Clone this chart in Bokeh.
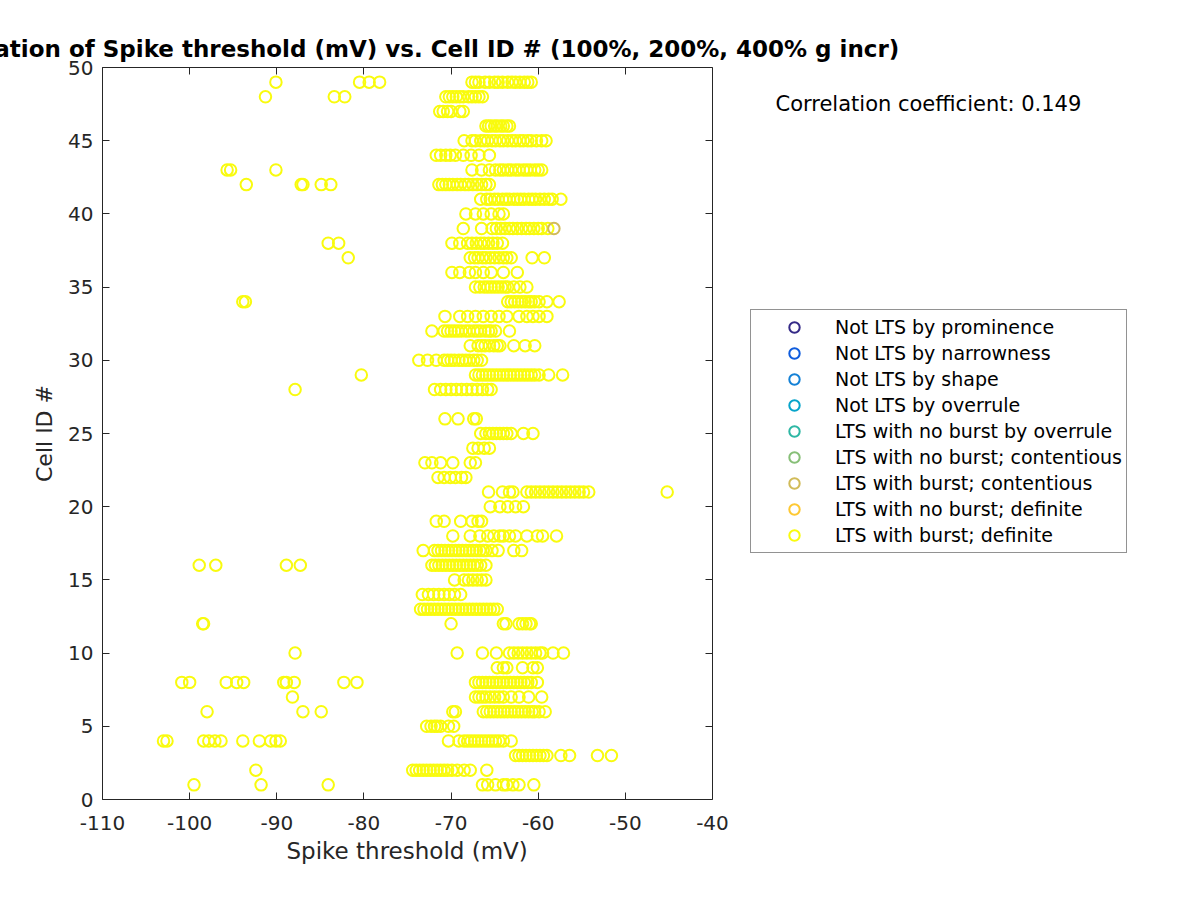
from bokeh.plotting import figure
from bokeh.models import (Legend, LegendItem, Label, LinearAxis, FixedTicker,
                          ColumnDataSource, Range1d, Title)
from bokeh.embed import file_html
from bokeh.resources import INLINE

# ---------------- data (spike threshold in mV, per cell ID) ----------------
cell_49 = [-90.1, -80.5, -79.4, -78.2, -67.6, -67.2, -66.8, -66.1, -65.6, -65.0, -64.6, -64.1,
           -63.5, -63.0, -62.6, -62.1, -61.6, -61.2, -60.8]
cell_48 = [-91.3, -83.4, -82.2, -70.6, -70.2, -69.8, -69.4, -69.0, -68.6, -68.0, -67.6, -67.2,
           -66.8, -66.4]
cell_47 = [-71.3, -70.9, -70.4, -70.0, -69.0, -68.6]
cell_46 = [-66.0, -65.7, -65.4, -65.0, -64.7, -64.3, -64.0, -63.6, -63.3]
cell_45 = [-68.5, -67.6, -67.2, -66.6, -66.2, -65.8, -65.3, -64.9, -64.4, -64.0, -63.5, -63.0,
           -62.6, -62.1, -61.7, -61.2, -60.8, -60.2, -59.6, -59.1]
cell_44 = [-71.7, -71.2, -70.6, -70.1, -69.5, -68.6, -67.7, -66.8, -65.6]
cell_43 = [-95.7, -95.3, -90.1, -67.6, -66.5, -65.6, -64.9, -64.4, -64.0, -63.5, -63.1, -62.6,
           -62.2, -61.7, -61.3, -60.9, -60.4, -60.0, -59.6]
cell_42 = [-93.5, -87.2, -87.0, -84.9, -83.8, -71.4, -71.0, -70.6, -70.2, -69.8, -69.3, -68.9,
           -68.4, -68.0, -67.5, -67.0, -66.5, -66.0, -65.6]
cell_41 = [-66.6, -65.9, -65.5, -65.0, -64.6, -64.1, -63.7, -63.3, -62.8, -62.4, -62.0, -61.6,
           -61.1, -60.7, -60.3, -59.8, -59.3, -58.8, -58.4, -57.4]
cell_40 = [-68.3, -67.2, -66.3, -65.4, -64.5, -64.0]
cell_39 = [-68.6, -66.5, -65.3, -64.8, -64.3, -63.8, -63.3, -62.9, -62.4, -61.9, -61.4, -61.0,
           -60.5, -60.0, -59.6, -58.9]
cell_38 = [-84.1, -82.9, -69.9, -69.0, -68.1, -67.6, -67.1, -66.6, -66.2, -65.7, -65.2, -64.7,
           -64.1]
cell_37 = [-81.8, -67.8, -67.3, -66.9, -66.4, -66.0, -65.5, -65.0, -64.5, -64.0, -63.6, -63.1,
           -60.7, -59.3]
cell_36 = [-69.9, -69.0, -67.9, -67.2, -66.3, -65.4, -64.0, -62.4]
cell_35 = [-67.2, -66.7, -66.2, -65.8, -65.4, -65.0, -64.6, -64.2, -63.8, -63.5, -62.8, -62.1,
           -61.3]
cell_34 = [-93.9, -93.6, -63.5, -63.1, -62.7, -62.3, -61.9, -61.5, -61.1, -60.8, -60.4, -59.9,
           -59.0, -57.6]
cell_33 = [-70.7, -69.0, -68.1, -67.2, -66.3, -65.4, -64.5, -63.6, -62.2, -61.3, -60.6, -59.9,
           -59.0]
cell_32 = [-72.2, -70.8, -70.4, -70.0, -69.6, -69.2, -68.8, -68.3, -67.9, -67.4, -67.0, -66.6,
           -66.1, -65.7, -65.4, -64.9, -63.3]
cell_31 = [-67.8, -66.9, -66.5, -66.1, -65.6, -65.1, -64.7, -64.4, -62.8, -61.5, -60.4]
cell_30 = [-73.7, -72.7, -71.7, -70.8, -70.4, -70.0, -69.6, -69.1, -68.7, -68.3, -67.9, -67.4,
           -67.0, -66.5]
cell_29 = [-80.3, -67.2, -66.8, -66.4, -66.0, -65.6, -65.2, -64.8, -64.4, -64.0, -63.6, -63.2,
           -62.8, -62.4, -62.0, -61.6, -61.2, -60.8, -60.4, -59.9, -58.8, -57.2]
cell_28 = [-87.9, -71.9, -71.2, -70.6, -70.0, -69.4, -68.8, -68.2, -67.6, -67.0, -66.4, -65.8,
           -65.4]
cell_26 = [-70.7, -69.2, -67.4, -67.1]
cell_25 = [-66.6, -66.0, -65.6, -65.2, -64.8, -64.4, -64.0, -63.6, -63.1, -61.7, -60.6]
cell_24 = [-67.5, -66.9, -66.2, -65.6]
cell_23 = [-73.0, -72.2, -71.2, -69.8, -67.8, -67.2]
cell_22 = [-71.5, -70.8, -70.1, -69.5, -68.8, -68.3]
cell_21 = [-65.7, -64.1, -63.3, -62.9, -61.3, -60.8, -60.3, -59.8, -59.3, -58.8, -58.3, -57.8,
           -57.3, -56.8, -56.3, -55.8, -55.3, -54.8, -54.2, -45.2]
cell_20 = [-65.5, -64.4, -63.5, -62.6, -61.7]
cell_19 = [-71.7, -70.8, -68.9, -67.6, -66.9, -66.5]
cell_18 = [-69.8, -67.8, -66.7, -65.8, -65.1, -64.4, -64.0, -63.3, -62.6, -61.3, -60.1, -59.5,
           -57.9]
cell_17 = [-73.2, -71.9, -71.5, -71.1, -70.7, -70.3, -69.9, -69.5, -69.1, -68.7, -68.3, -67.9,
           -67.5, -67.1, -66.7, -66.3, -66.0, -65.3, -64.6, -62.8, -61.9]
cell_16 = [-98.9, -97.0, -88.9, -87.3, -72.2, -71.8, -71.4, -71.0, -70.6, -70.2, -69.8, -69.4,
           -69.0, -68.6, -68.2, -67.8, -67.4, -67.0, -66.6, -66.0]
cell_15 = [-69.6, -68.5, -68.0, -67.5, -67.0, -66.5, -66.0]
cell_14 = [-73.3, -72.6, -72.0, -71.4, -70.8, -70.2, -69.6, -68.9]
cell_13 = [-73.5, -73.1, -72.7, -72.3, -71.9, -71.5, -71.1, -70.7, -70.3, -69.9, -69.5, -69.1,
           -68.7, -68.3, -67.9, -67.5, -67.1, -66.7, -66.3, -65.9, -65.5, -65.1, -64.7]
cell_12 = [-98.5, -98.4, -70.0, -64.0, -63.7, -62.2, -61.8, -61.4, -61.0, -60.8]
cell_10 = [-87.9, -69.3, -66.4, -64.8, -63.3, -62.8, -62.3, -61.8, -61.3, -60.8, -60.3, -59.8,
           -59.5, -58.3, -57.1]
cell_09 = [-64.7, -64.0, -63.6, -61.8, -60.6, -60.1]
cell_08 = [-100.9, -100.0, -95.8, -94.6, -93.8, -89.2, -88.9, -88.0, -82.3, -80.8, -67.2, -66.8,
           -66.4, -66.0, -65.6, -65.2, -64.8, -64.4, -64.0, -63.6, -63.2, -62.8, -62.4, -62.0,
           -61.6, -61.2, -60.8, -60.1]
cell_07 = [-88.2, -67.2, -66.8, -66.4, -66.0, -65.5, -65.0, -64.5, -64.0, -63.1, -62.2, -61.1,
           -59.6]
cell_06 = [-98.0, -87.0, -84.9, -69.8, -69.5, -66.3, -65.9, -65.5, -65.1, -64.7, -64.3, -63.9,
           -63.5, -63.1, -62.7, -62.3, -61.9, -61.5, -61.1, -60.7, -60.4, -59.9, -59.2]
cell_05 = [-72.8, -72.3, -71.9, -71.6, -71.2, -70.3, -69.7]
cell_04 = [-103.0, -102.6, -98.4, -97.8, -97.1, -96.4, -93.9, -92.0, -90.7, -90.1, -89.6,
           -70.3, -69.1, -68.5, -68.1, -67.7, -67.3, -66.9, -66.5, -66.1, -65.7, -65.3, -64.9,
           -64.5, -64.0, -63.1]
cell_03 = [-62.6, -62.2, -61.8, -61.4, -61.0, -60.6, -60.2, -59.8, -59.4, -59.0, -57.4, -56.4,
           -53.2, -51.6]
cell_02 = [-92.4, -74.4, -74.0, -73.6, -73.2, -72.8, -72.4, -72.0, -71.6, -71.2, -70.8, -70.4,
           -69.9, -69.3, -68.5, -67.8, -65.9]
cell_01 = [-99.5, -91.8, -84.1, -66.4, -65.8, -64.9, -64.0, -63.6, -62.9, -62.2, -60.5]

# point classified as "LTS with burst; contentious"
contentious_cell = [39]
contentious_threshold = [-58.2]

categories = ["Not LTS by prominence", "Not LTS by narrowness", "Not LTS by shape",
              "Not LTS by overrule", "LTS with no burst by overrule",
              "LTS with no burst; contentious", "LTS with burst; contentious",
              "LTS with no burst; definite", "LTS with burst; definite"]
category_colors = ["#352A87", "#0F5CDD", "#1481D6", "#06A4CA", "#2EB7A4",
                   "#87BF77", "#D1BB59", "#FEC832", "#F9FB0E"]

x_ticks = [-110, -100, -90, -80, -70, -60, -50, -40]
x_tick_labels = ["-110", "-100", "-90", "-80", "-70", "-60", "-50", "-40"]
y_ticks = [0, 5, 10, 15, 20, 25, 30, 35, 40, 45, 50]
y_tick_labels = ["0", "5", "10", "15", "20", "25", "30", "35", "40", "45", "50"]
x_lim = (-110, -40)
y_lim = (0, 50)

title_text = "Correlation of Spike threshold (mV) vs. Cell ID # (100%, 200%, 400% g incr)"
corr_text = "Correlation coefficient: 0.149"
x_label = "Spike threshold (mV)"
y_label = "Cell ID #"

cell_rows = [(49, cell_49), (48, cell_48), (47, cell_47), (46, cell_46), (45, cell_45),
             (44, cell_44), (43, cell_43), (42, cell_42), (41, cell_41), (40, cell_40),
             (39, cell_39), (38, cell_38), (37, cell_37), (36, cell_36), (35, cell_35),
             (34, cell_34), (33, cell_33), (32, cell_32), (31, cell_31), (30, cell_30),
             (29, cell_29), (28, cell_28), (26, cell_26), (25, cell_25), (24, cell_24),
             (23, cell_23), (22, cell_22), (21, cell_21), (20, cell_20), (19, cell_19),
             (18, cell_18), (17, cell_17), (16, cell_16), (15, cell_15), (14, cell_14),
             (13, cell_13), (12, cell_12), (10, cell_10), (9, cell_09), (8, cell_08),
             (7, cell_07), (6, cell_06), (5, cell_05), (4, cell_04), (3, cell_03),
             (2, cell_02), (1, cell_01)]

# ---------------- build ----------------
xs, ys = [], []
for cid, vals in cell_rows:
    for v in vals:
        xs.append(v)
        ys.append(cid)

FONT = "DejaVu Sans"
AX = "#262626"
NAN = float("nan")

# The drawing frame is widened to the right so that legend and text (which live
# outside the axes box) are not clipped; the axes box itself spans 610 px.
AXES_W = 610
FRAME_W = 1080
x_end = x_lim[0] + (x_lim[1] - x_lim[0]) * FRAME_W / AXES_W

p = figure(frame_width=FRAME_W, frame_height=732,
           x_range=Range1d(x_lim[0], x_end), y_range=Range1d(*y_lim),
           min_border_left=102, min_border_right=4, min_border_top=67, min_border_bottom=93,
           output_backend="svg", toolbar_location=None)
p.outline_line_color = None
p.grid.visible = False
p.background_fill_color = "white"
p.border_fill_color = "white"


def style_axis(ax, ticks, labels):
    ax.ticker = FixedTicker(ticks=ticks)
    ax.major_label_overrides = {t: s for t, s in zip(ticks, labels)}
    ax.major_tick_in = 7
    ax.major_tick_out = 0
    ax.minor_tick_line_color = None
    ax.axis_line_color = AX
    ax.major_tick_line_color = AX
    ax.major_label_text_font = FONT
    ax.major_label_text_font_size = "20px"
    ax.major_label_text_color = AX
    ax.axis_label_text_font = FONT
    ax.axis_label_text_font_size = "22px"
    ax.axis_label_text_font_style = "normal"
    ax.axis_label_text_color = AX


style_axis(p.xaxis[0], x_ticks, x_tick_labels)
style_axis(p.yaxis[0], y_ticks, y_tick_labels)
p.xaxis[0].bounds = x_lim
p.xaxis[0].major_label_standoff = 16
p.yaxis[0].axis_label = y_label
p.yaxis[0].major_label_standoff = 9
p.yaxis[0].axis_label_standoff = 8

# x-axis label centred under the 610 px axes box
p.add_layout(Title(text=x_label, align="left", offset=184, standoff=7,
                   text_font=FONT, text_font_size="23px", text_font_style="normal",
                   text_color=AX), "below")

blank_x = {t: "" for t in x_ticks}
blank_y = {t: "" for t in y_ticks}
top_ax = LinearAxis(ticker=FixedTicker(ticks=x_ticks), bounds=x_lim,
                    major_label_overrides=blank_x,
                    major_tick_in=7, major_tick_out=0,
                    minor_tick_line_color=None, axis_line_color=AX, major_tick_line_color=AX,
                    major_label_standoff=0)
right_ax = LinearAxis(ticker=FixedTicker(ticks=y_ticks), fixed_location=x_lim[1],
                      major_label_overrides=blank_y,
                      major_tick_in=7, major_tick_out=0,
                      minor_tick_line_color=None, axis_line_color=AX, major_tick_line_color=AX,
                      major_label_standoff=0)
p.add_layout(top_ax, "above")
p.add_layout(right_ax, "right")

# one renderer per category (a single NaN placeholder where a category has no points,
# so that its legend symbol is still drawn). Created in reverse so that the
# "contentious" point is drawn on top of the yellow ones.
renderer_of = {}
for cat, col in reversed(list(zip(categories, category_colors))):
    if cat == "LTS with burst; definite":
        src = ColumnDataSource(data=dict(x=xs, y=ys))
    elif cat == "LTS with burst; contentious":
        src = ColumnDataSource(data=dict(x=contentious_threshold, y=contentious_cell))
    else:
        src = ColumnDataSource(data=dict(x=[NAN], y=[NAN]))
    renderer_of[cat] = p.scatter("x", "y", source=src, marker="circle", size=11.5,
                                 fill_color=None, line_color=col, line_width=2)

legend = Legend(items=[LegendItem(label=c, renderers=[renderer_of[c]], index=0)
                       for c in categories],
                location=(648, 246), orientation="vertical",
                label_text_font=FONT, label_text_font_size="19px", label_text_color="black",
                glyph_width=78, glyph_height=26, label_height=26, label_standoff=2,
                spacing=0, padding=4, margin=0,
                border_line_color="#262626", border_line_width=1,
                background_fill_color="white", background_fill_alpha=1.0)
p.add_layout(legend, "center")

p.add_layout(Label(x=673, y=696, x_units="screen", y_units="screen", text=corr_text,
                   text_font=FONT, text_font_size="21px", text_color="black",
                   text_align="left", text_baseline="alphabetic"))

# title, centred over the 610 px axes box (it overflows the left edge, as in the original)
p.title.text = title_text
p.title.text_font = FONT
p.title.text_font_size = "23px"
p.title.text_font_style = "bold"
p.title.text_color = "black"
p.title.align = "left"
p.title.offset = -187
p.title.standoff = 11

open("out.html", "w").write(file_html(p, INLINE))
